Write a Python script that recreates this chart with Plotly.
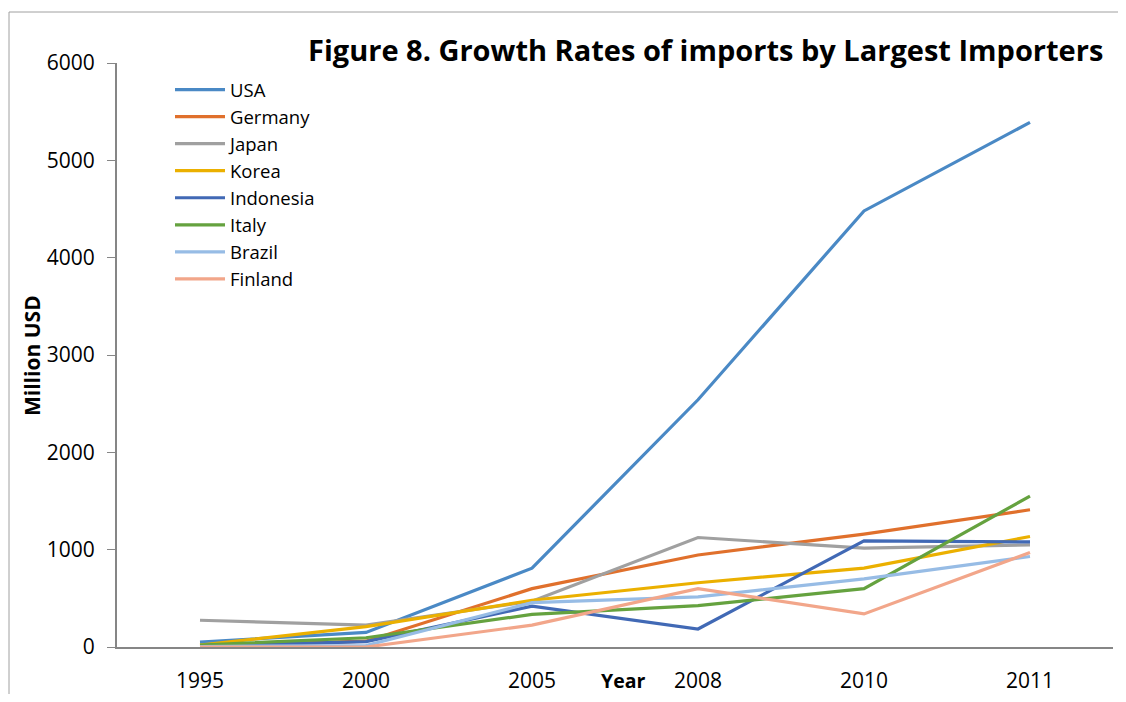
import plotly.graph_objects as go

years = ["1995", "2000", "2005", "2008", "2010", "2011"]
usa = [50, 150, 810, 2540, 4480, 5390]
germany = [10, 60, 600, 945, 1160, 1410]
japan = [275, 225, 470, 1125, 1015, 1050]
korea = [20, 210, 480, 660, 810, 1135]
indonesia = [10, 55, 420, 185, 1090, 1080]
italy = [20, 95, 335, 425, 600, 1550]
brazil = [5, 15, 455, 515, 700, 930]
finland = [0, 0, 225, 600, 340, 970]

series = [
    ("USA", usa, "#4A89C5"),
    ("Germany", germany, "#E0702C"),
    ("Japan", japan, "#A0A0A0"),
    ("Korea", korea, "#EBB000"),
    ("Indonesia", indonesia, "#4169B5"),
    ("Italy", italy, "#65A23F"),
    ("Brazil", brazil, "#97BCE5"),
    ("Finland", finland, "#F2A68A"),
]

FONT = "Open Sans"

fig = go.Figure()
for name, vals, col in series:
    fig.add_trace(go.Scatter(x=years, y=vals, name=name, mode="lines",
                             line=dict(color=col, width=3.2)))

# page has an 8px body margin; work in figure coordinates (page - 8)
OFF = 8
W, H = 1126 - 2 * OFF, 702 - 2 * OFF
L, R, T, B = 117 - OFF, W - (1113 - OFF), 63 - OFF, H - (647 - OFF)
pw, ph = W - L - R, H - T - B

def px(xpage):
    return (xpage - OFF - L) / pw

def py(ypage):
    return (H - B - (ypage - OFF)) / ph

fig.update_layout(
    width=W, height=H, autosize=False,
    margin=dict(l=L, r=R, t=T, b=B, pad=0, autoexpand=False),
    paper_bgcolor="white", plot_bgcolor="white",
    font=dict(family=FONT, color="black", size=20),
    showlegend=True,
    legend=dict(x=px(170), y=py(71), xanchor="left", yanchor="top",
                font=dict(family=FONT, size=18.5), bgcolor="rgba(0,0,0,0)",
                tracegroupgap=0, itemwidth=50),
    xaxis=dict(type="category", range=[-0.5, 5.5], showgrid=False,
               showline=True, linecolor="#868686", linewidth=2,
               ticks="", tickfont=dict(size=21), ticklabelstandoff=14,
               automargin=False),
    yaxis=dict(range=[0, 6000], dtick=1000, showgrid=False,
               showline=True, linecolor="#868686", linewidth=2,
               ticks="outside", ticklen=8, tickcolor="#868686",
               tickfont=dict(size=21), zeroline=False, ticklabelstandoff=8,
               automargin=False),
    annotations=[
        dict(text="<b>Figure 8. Growth Rates of imports by Largest Importers</b>",
             xref="paper", yref="paper", x=px(705), y=py(50),
             xanchor="center", yanchor="middle", showarrow=False,
             font=dict(family=FONT, size=29)),
        dict(text="<b>Year</b>", xref="paper", yref="paper",
             x=px(623), y=py(680), xanchor="center", yanchor="middle",
             showarrow=False, borderpad=0, font=dict(family=FONT, size=19.5)),
        dict(text="<b>Million USD</b>", xref="paper", yref="paper",
             x=px(32), y=py(356), xanchor="center", yanchor="middle",
             textangle=-90, showarrow=False, font=dict(family=FONT, size=21)),
    ],
    shapes=[
        dict(type="line", xref="paper", yref="paper", x0=px(9), x1=px(1130),
             y0=py(12), y1=py(12), line=dict(color="#A0A0A0", width=1)),
        dict(type="line", xref="paper", yref="paper", x0=px(9), x1=px(9),
             y0=py(12), y1=py(710), line=dict(color="#A0A0A0", width=1)),
    ],
)

fig.write_html("out.html")
